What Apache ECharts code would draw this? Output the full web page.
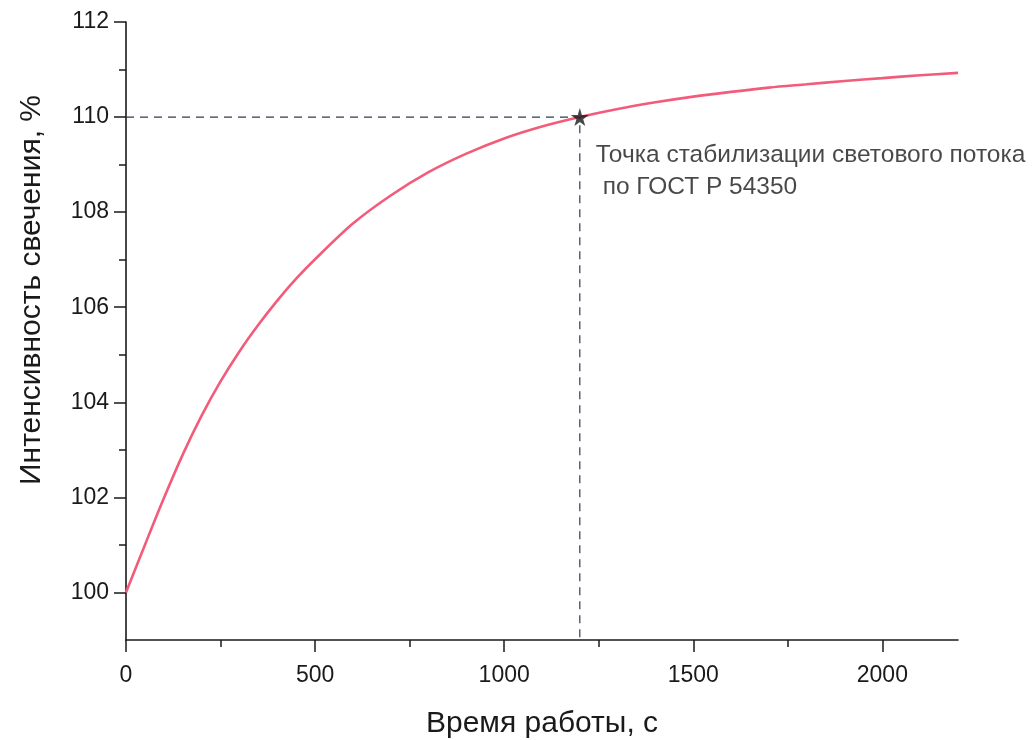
<!DOCTYPE html>
<html>
<head>
<meta charset="utf-8">
<script src="https://cdn.jsdelivr.net/npm/echarts@6/dist/echarts.min.js"></script>
<style>
html,body{margin:0;padding:0;background:#fff;}
#chart{width:1035px;height:740px;}
</style>
</head>
<body>
<div id="chart"></div>
<script>
// Data
var timeSec = [0, 50, 100, 150, 200, 250, 300, 350, 400, 450, 500, 600, 700, 800, 900, 1000, 1100, 1200, 1300, 1400, 1500, 1600, 1700, 1800, 1900, 2000, 2100, 2200];
var intensity = [100.0, 101.0, 101.98, 102.9, 103.72, 104.44, 105.07, 105.63, 106.14, 106.6, 107.01, 107.76, 108.35, 108.84, 109.23, 109.55, 109.8, 110.0, 110.17, 110.31, 110.43, 110.53, 110.62, 110.69, 110.76, 110.82, 110.88, 110.93];
var stabPoint = [1200, 110];
var xMajorTicks = [0, 500, 1000, 1500, 2000];
var xMinorTicks = [250, 750, 1250, 1750];
var yMajorTicks = [100, 102, 104, 106, 108, 110, 112];
var yMinorTicks = [101, 103, 105, 107, 109, 111];
var xTitle = 'Время работы, с';
var yTitle = 'Интенсивность свечения, %';
var noteText = 'Точка стабилизации светового потока\n по ГОСТ Р 54350';

var curveData = timeSec.map(function (t, i) { return [t, intensity[i]]; });
var guideData = [[0, stabPoint[1]], [stabPoint[0], stabPoint[1]], [stabPoint[0], 99]];

var FONT = '"Liberation Sans", Arial, sans-serif';
var INK = '#1a1a1a';
var axisLine = { show: true, lineStyle: { color: INK, width: 1.6 } };

var chart = echarts.init(document.getElementById('chart'));
chart.setOption({
  animation: false,
  backgroundColor: '#fff',
  grid: { left: 126, right: 77, top: 22, bottom: 100, containLabel: false, outerBoundsMode: 'none' },
  xAxis: [{
    type: 'value', min: 0, max: 2200, interval: 500,
    axisLine: axisLine,
    axisTick: { show: true, inside: false, length: 12, customValues: xMajorTicks, lineStyle: { color: INK, width: 1.5 } },
    axisLabel: { customValues: xMajorTicks, margin: 24, fontSize: 23, color: INK, fontFamily: FONT,
      formatter: function (v) { return String(v); } },
    splitLine: { show: false },
    name: xTitle, nameLocation: 'middle', nameGap: 69,
    nameTextStyle: { fontSize: 30, color: INK, fontFamily: FONT }
  }, {
    type: 'value', min: 0, max: 2200, position: 'bottom',
    axisLine: { show: false },
    axisTick: { show: true, length: 7, customValues: xMinorTicks, lineStyle: { color: INK, width: 1.5 } },
    axisLabel: { show: false },
    splitLine: { show: false }
  }],
  yAxis: [{
    type: 'value', min: 99, max: 112, interval: 1,
    axisLine: axisLine,
    axisTick: { show: true, length: 12, customValues: yMajorTicks, lineStyle: { color: INK, width: 1.5 } },
    axisLabel: { customValues: yMajorTicks, margin: 17, fontSize: 23, color: INK, fontFamily: FONT },
    splitLine: { show: false }
  }, {
    type: 'value', min: 99, max: 112, interval: 1, position: 'left',
    axisLine: { show: false },
    axisTick: { show: true, length: 7, customValues: yMinorTicks, lineStyle: { color: INK, width: 1.5 } },
    axisLabel: { show: false },
    splitLine: { show: false }
  }],
  graphic: [{
    type: 'text', x: 32, y: 290, rotation: Math.PI / 2,
    style: { text: yTitle, font: '30px ' + FONT, fill: INK, align: 'center', verticalAlign: 'middle' }
  }],
  series: [{
    type: 'line', name: 'guide', data: guideData, symbol: 'none', silent: true,
    lineStyle: { color: '#2f3a52', width: 1.2, type: [8, 6] }, z: 1
  }, {
    type: 'line', name: 'curve', data: curveData, smooth: 0.3, symbol: 'none',
    lineStyle: { color: '#f25c7a', width: 2.6 }, z: 2
  }, {
    type: 'scatter', name: 'stab', data: [stabPoint],
    symbol: 'path://M50,0 L61,35 L98,35 L68,57 L79,91 L50,70 L21,91 L32,57 L2,35 L39,35 Z',
    symbolSize: 18, itemStyle: { color: INK }, z: 5,
    label: {
      show: true, formatter: noteText, position: [25, 31],
      fontSize: 24.5, lineHeight: 32, color: INK, fontFamily: FONT, align: 'left', verticalAlign: 'top'
    }
  }]
});
</script>
</body>
</html>
